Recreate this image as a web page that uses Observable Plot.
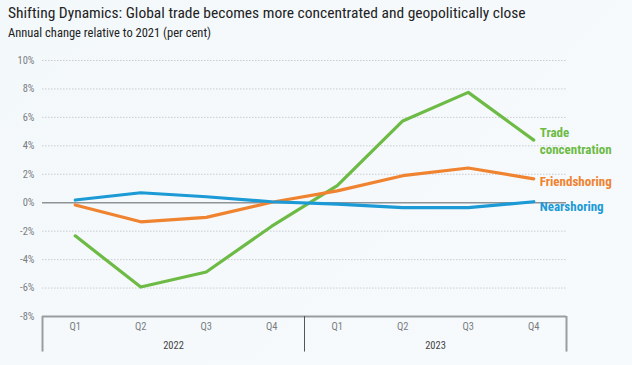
<!DOCTYPE html>
<html>
<head>
<meta charset="utf-8">
<script src="https://cdn.jsdelivr.net/npm/d3@7"></script>
<script src="https://cdn.jsdelivr.net/npm/@observablehq/plot@0.6"></script>
<style>
  html, body { margin: 0; padding: 0; }
  body {
    width: 632px; height: 365px; overflow: hidden; position: relative;
    background: linear-gradient(135deg, #f3f8fb 0%, #f7fafd 100%);
    font-family: "Liberation Sans Narrow", "Roboto Condensed", "DejaVu Sans Condensed", sans-serif;
  }
  #title { position: absolute; left: 8px; top: 4px; font-size: 15.5px; color: #222; line-height: 18px; white-space: nowrap; }
  #subtitle { position: absolute; left: 8px; top: 25px; font-size: 12.5px; color: #222; line-height: 15px; white-space: nowrap; }
  #chart { position: absolute; left: 0; top: 45px; }
</style>
</head>
<body>
<div id="title">Shifting Dynamics: Global trade becomes more concentrated and geopolitically close</div>
<div id="subtitle">Annual change relative to 2021 (per cent)</div>
<div id="chart"></div>
<script>
const quarters = ["Q1", "Q2", "Q3", "Q4", "Q1", "Q2", "Q3", "Q4"];
const years = ["2022", "2023"];
const tradeConcentration = [-2.33, -5.93, -4.87, -1.65, 1.2, 5.75, 7.76, 4.4];
const friendshoring = [-0.16, -1.34, -1.03, 0.03, 0.83, 1.9, 2.44, 1.68];
const nearshoring = [0.19, 0.7, 0.42, 0.07, -0.1, -0.35, -0.35, 0.07];
const yTicks = [-8, -6, -4, -2, 0, 2, 4, 6, 8, 10];

const seriesNames = ["Trade\nconcentration", "Friendshoring", "Nearshoring"];
const seriesValues = [tradeConcentration, friendshoring, nearshoring];
const colors = ["#6dbb45", "#f0832f", "#1b9ad6"];
const labelDy = [0, 2, 4];

const rows = [];
seriesValues.forEach((vals, s) => vals.forEach((v, i) => rows.push({series: seriesNames[s], i, v})));

const yMin = d3.min(yTicks), yMax = d3.max(yTicks);
const xLo = -0.5, xHi = quarters.length - 0.5;
const boxDepth = 2.5; // in y units below the axis floor
const yearCenters = years.map((y, k) => ({year: y, x: k * 4 + 1.5}));
const dividers = [xLo, 3.5, xHi];

const endLabels = seriesValues.map((vals, s) =>
  Plot.text([{series: seriesNames[s], i: vals.length - 1, v: vals[vals.length - 1]}], {
    x: "i", y: "v", text: "series", dx: 6, dy: labelDy[s], fill: colors[s],
    textAnchor: "start", fontWeight: "bold", fontSize: 13, lineHeight: 1.3
  })
);

const chart = Plot.plot({
  width: 632,
  height: 320,
  marginLeft: 42,
  marginRight: 66,
  marginTop: 15,
  marginBottom: 49,
  style: {background: "transparent", fontFamily: "\"Liberation Sans Narrow\", \"Roboto Condensed\", \"DejaVu Sans Condensed\", sans-serif", overflow: "visible"},
  x: {domain: [xLo, xHi], axis: null},
  y: {domain: [yMin, yMax], axis: null},
  color: {domain: seriesNames, range: colors},
  marks: [
    Plot.ruleY(yTicks.filter(t => t !== 0 && t !== yMin), {y: d => d, x1: xLo, x2: xHi, stroke: "#c8ccd0", strokeDasharray: "1.5,1.5", strokeWidth: 1}),
    Plot.ruleY([0], {x1: xLo, x2: xHi, stroke: "#8f9396", strokeWidth: 1.5}),
    Plot.axisY({ticks: yTicks, tickSize: 0, tickPadding: 8, tickFormat: d => d + "%", fontSize: 10.5, fill: "#7a7e82", label: null}),
    Plot.ruleY([yMin], {x1: xLo, x2: xHi, stroke: "#999da0", strokeWidth: 2}),
    Plot.ruleX(dividers, {x: d => d, y1: yMin, y2: yMin - boxDepth, stroke: (d, j) => j === 1 ? "#555" : "#999da0", strokeWidth: (d, j) => j === 1 ? 1 : 2}),
    Plot.text(quarters, {x: (d, i) => i, y: yMin, text: d => d, dy: 10, fontSize: 10.5, fill: "#7a7e82"}),
    Plot.text(yearCenters, {x: "x", y: yMin, text: "year", dy: 29, fontSize: 10.5, fill: "#444"}),
    Plot.line(rows, {x: "i", y: "v", z: "series", stroke: "series", strokeWidth: 3.2}),
    ...endLabels
  ]
});
document.getElementById("chart").appendChild(chart);
</script>
</body>
</html>
